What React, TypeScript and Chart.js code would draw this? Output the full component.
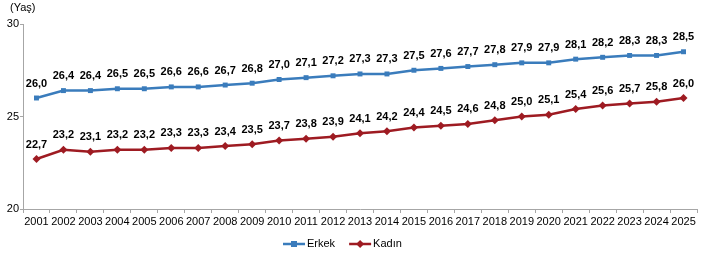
import React, { useEffect, useRef } from "react";
import { Chart, registerables } from "chart.js";

Chart.register(...registerables);

const years = ["2001","2002","2003","2004","2005","2006","2007","2008","2009","2010","2011","2012","2013","2014","2015","2016","2017","2018","2019","2020","2021","2022","2023","2024","2025"];
const erkek = [26.0,26.4,26.4,26.5,26.5,26.6,26.6,26.7,26.8,27.0,27.1,27.2,27.3,27.3,27.5,27.6,27.7,27.8,27.9,27.9,28.1,28.2,28.3,28.3,28.5];
const kadin = [22.7,23.2,23.1,23.2,23.2,23.3,23.3,23.4,23.5,23.7,23.8,23.9,24.1,24.2,24.4,24.5,24.6,24.8,25.0,25.1,25.4,25.6,25.7,25.8,26.0];
const yTicks = [20, 25, 30];
const seriesNames = ["Erkek", "Kadın"];

const BLUE = "#3a7cbc";
const RED = "#9e1b22";
const AXIS = "#a6a6a6";
const FONT = "'Liberation Sans', Arial, sans-serif";

function drawMarker(ctx: CanvasRenderingContext2D, kind: number, x: number, y: number) {
  if (kind === 0) {
    ctx.fillRect(x - 3, y - 3, 6, 6);
  } else {
    ctx.beginPath();
    ctx.moveTo(x, y - 4);
    ctx.lineTo(x + 4, y);
    ctx.lineTo(x, y + 4);
    ctx.lineTo(x - 4, y);
    ctx.closePath();
    ctx.fill();
  }
}

const labelPlugin = {
  id: "valueLabels",
  afterDatasetsDraw(chart: any) {
    const ctx = chart.ctx as CanvasRenderingContext2D;
    ctx.save();
    ctx.font = `bold 11px ${FONT}`;
    ctx.fillStyle = "#000";
    ctx.textAlign = "center";
    ctx.textBaseline = "bottom";
    chart.data.datasets.forEach((ds: any, i: number) => {
      const meta = chart.getDatasetMeta(i);
      meta.data.forEach((pt: any, j: number) => {
        const v = ds.data[j] as number;
        ctx.fillText(v.toFixed(1).replace(".", ","), pt.x, pt.y - 9);
      });
    });
    // unit label
    ctx.font = `11px ${FONT}`;
    ctx.textAlign = "left";
    ctx.textBaseline = "middle";
    ctx.fillText("(Yaş)", 10, 8);
    // legend
    const ly = 244;
    let x = 283;
    chart.data.datasets.forEach((ds: any, i: number) => {
      const color = ds.borderColor as string;
      ctx.strokeStyle = color;
      ctx.fillStyle = color;
      ctx.lineWidth = 2.5;
      ctx.beginPath();
      ctx.moveTo(x, ly);
      ctx.lineTo(x + 22, ly);
      ctx.stroke();
      drawMarker(ctx, i, x + 11, ly);
      ctx.fillStyle = "#000";
      const t = seriesNames[i];
      ctx.fillText(t, x + 24, ly);
      x += 24 + ctx.measureText(t).width + 14;
    });
    ctx.restore();
  },
};

export default function App() {
  const ref = useRef<HTMLCanvasElement>(null);
  useEffect(() => {
    if (!ref.current) return;
    const chart = new Chart(ref.current, {
      type: "line",
      data: {
        labels: years,
        datasets: [
          {
            label: seriesNames[0],
            data: erkek,
            borderColor: BLUE,
            backgroundColor: BLUE,
            borderWidth: 2.5,
            pointStyle: "rect",
            pointRadius: 3.5,
            pointBorderWidth: 0,
            tension: 0,
          },
          {
            label: seriesNames[1],
            data: kadin,
            borderColor: RED,
            backgroundColor: RED,
            borderWidth: 2.5,
            pointStyle: "rectRot",
            pointRadius: 4,
            pointBorderWidth: 0,
            tension: 0,
          },
        ],
      },
      options: {
        responsive: true,
        maintainAspectRatio: false,
        animation: false,
        layout: { padding: { top: 24, right: 4, bottom: 19, left: 0 } },
        plugins: {
          tooltip: { enabled: false },
          legend: { display: false },
        },
        scales: {
          x: {
            type: "category",
            offset: true,
            grid: { display: true, drawOnChartArea: false, drawTicks: true, tickLength: 4, offset: true, color: AXIS },
            border: { display: true, color: AXIS, width: 1 },
            ticks: { color: "#000", font: { family: FONT, size: 11 }, padding: 2, maxRotation: 0, autoSkip: false },
            afterFit: (s: any) => { s.height = 26; },
          },
          y: {
            min: 20,
            max: 30,
            afterBuildTicks: (s: any) => { s.ticks = yTicks.map((v) => ({ value: v })); },
            grid: { display: true, drawOnChartArea: false, drawTicks: true, tickLength: 3, color: AXIS },
            border: { display: true, color: AXIS, width: 1 },
            ticks: { color: "#000", font: { family: FONT, size: 11 }, padding: 1 },
            afterFit: (s: any) => { s.width = 23; },
          },
        },
      },
      plugins: [labelPlugin],
    });
    return () => chart.destroy();
  }, []);
  return (
    <div style={{ position: "absolute", left: 0, top: 0, width: 701, height: 254, background: "#fff" }}>
      <canvas ref={ref} />
    </div>
  );
}
